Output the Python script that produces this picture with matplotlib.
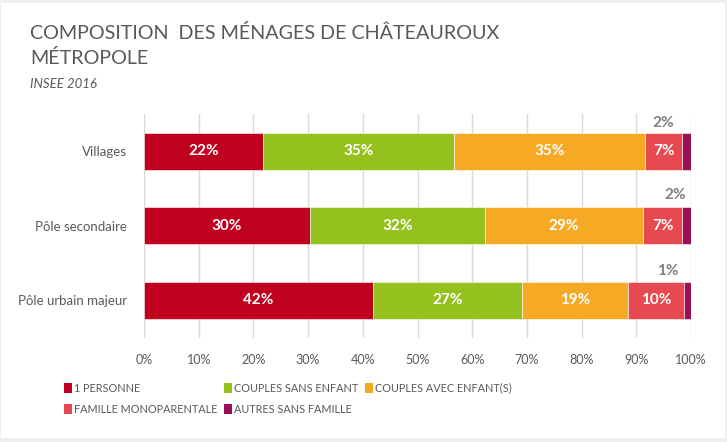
import matplotlib
matplotlib.use("Agg")
import matplotlib.pyplot as plt
from matplotlib.patches import Rectangle, Patch
import numpy as np

plt.rcParams['font.family'] = ['Lato', 'DejaVu Sans']

categories = ["Pôle urbain majeur", "Pôle secondaire", "Villages"]
series_names = ["1 PERSONNE", "COUPLES SANS ENFANT", "COUPLES AVEC ENFANT(S)",
                "FAMILLE MONOPARENTALE", "AUTRES SANS FAMILLE"]
one_person = [41.9, 30.3, 21.7]
couples_no_child = [27.2, 32.0, 35.0]
couples_child = [19.4, 28.9, 34.9]
single_parent = [10.3, 7.2, 6.8]
others = [1.2, 1.6, 1.6]
colors = ["#C0001F", "#95C11F", "#F6A925", "#E64A50", "#9B0F55"]
xticks = [0, 10, 20, 30, 40, 50, 60, 70, 80, 90, 100]

series = [one_person, couples_no_child, couples_child, single_parent, others]

W, H = 727, 442
fig = plt.figure(figsize=(W / 100, H / 100), dpi=100)
fig.patch.set_facecolor("#EFEFEF")
fig.patches.append(Rectangle((1 / W, 1 - 438 / H), 724 / W, 435 / H,
                             transform=fig.transFigure, facecolor="white",
                             edgecolor="none", zorder=-5))

ax = fig.add_axes([144 / W, (H - 337.5) / H, 547 / W, 223.5 / H])
ax.set_zorder(2)
ax.set_facecolor("none")

small_offsets = [(-14, 8), (-8, 9), (-17, 7)]  # label nudges (points)

y = np.arange(len(categories))
left = np.zeros(len(categories))
for vals, col, name in zip(series, colors, series_names):
    bars = ax.barh(y, vals, left=left, height=0.5, color=col, label=name,
                   edgecolor="white", linewidth=0.4, zorder=3)
    for i, (b, v) in enumerate(zip(bars, vals)):
        if name == "AUTRES SANS FAMILLE":
            ax.annotate(f"{round(v):.0f}%", xy=(left[i] + v / 2, i + 0.25),
                        xytext=small_offsets[i], textcoords="offset points",
                        ha="center", va="center", fontsize=11,
                        fontweight="bold", color="#7F7F7F")
        else:
            ax.text(left[i] + v / 2, i, f"{round(v):.0f}%", ha="center",
                    va="center", fontsize=11, fontweight="bold",
                    color="white", zorder=4)
    left += np.array(vals)

ax.set_xlim(0, 100)
ax.set_ylim(-0.5, 2.5)
ax.set_xticks(xticks)
ax.set_xticklabels([f"{t}%" for t in xticks], fontsize=9, color="#595959")
ax.set_yticks(y)
ax.set_yticklabels(categories, fontsize=9.5, color="#595959")
ax.tick_params(length=0)
ax.tick_params(axis="x", pad=12)
ax.tick_params(axis="y", pad=12)
ax.grid(axis="x", color="#D9D9D9", linewidth=1, zorder=0)
ax.set_axisbelow(True)
for s in ax.spines.values():
    s.set_visible(False)

fig.text(30 / W, 1 - 39 / H, "COMPOSITION  DES MÉNAGES DE CHÂTEAUROUX",
         fontsize=14.2, color="#595959", va="baseline", ha="left")
fig.text(30 / W, 1 - 64 / H, "MÉTROPOLE", fontsize=14.2, color="#595959",
         va="baseline", ha="left")
fig.text(30 / W, 1 - 88 / H, "INSEE 2016", fontsize=9.5, color="#595959",
         style="italic", va="baseline", ha="left")

handles = [Patch(facecolor=c, edgecolor="none") for c in colors]
order = [0, 3, 1, 4, 2]
leg = fig.legend([handles[i] for i in order], [series_names[i] for i in order],
                 ncol=3, loc="upper left", bbox_to_anchor=(54 / W, 1 - 373 / H),
                 frameon=False, handlelength=0.75, handleheight=1.0,
                 handletextpad=0.2, columnspacing=0.6, labelspacing=0.95,
                 labelcolor="#595959", fontsize=7.8)

fig.savefig("out.png", dpi=100, facecolor=fig.get_facecolor())
